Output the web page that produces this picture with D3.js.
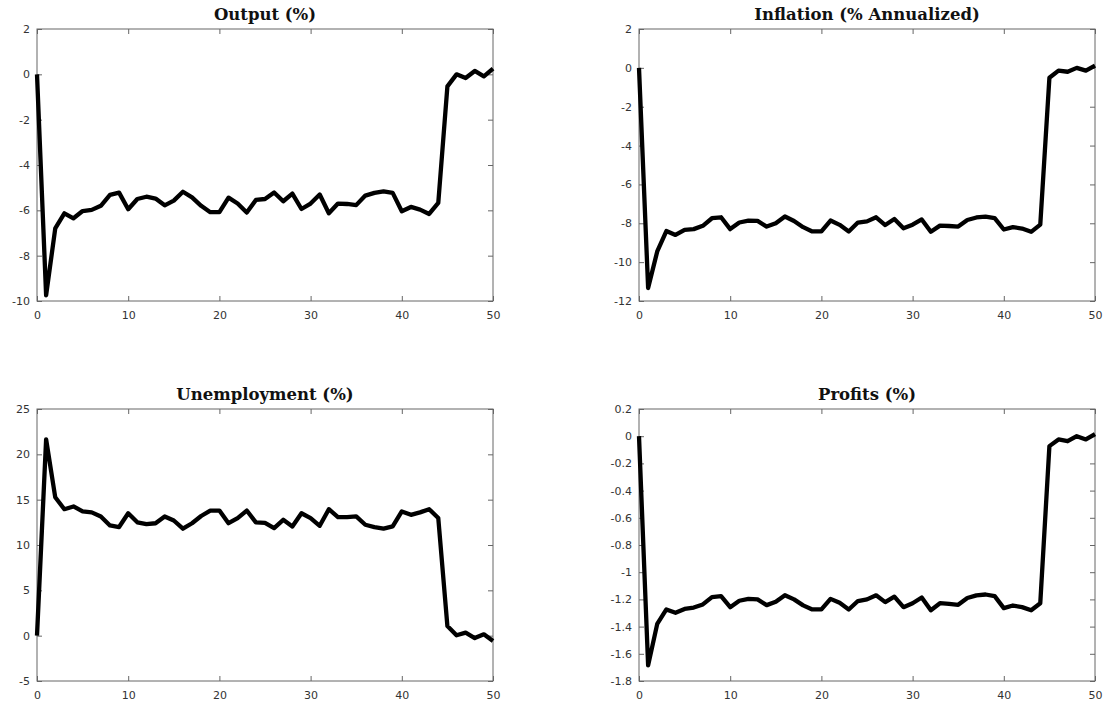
<!DOCTYPE html>
<html lang="en">
  <head>
    <meta charset="UTF-8">
    <script src="https://d3js.org/d3.v7.min.js"></script>
    <style>
      html,body{
        margin: 0px;
        background: #fff;
      }
      .tick text{ font-family: "DejaVu Sans", sans-serif; font-size: 11px; fill: #333; }
      .ttl{ font-family: "DejaVu Serif", serif; font-weight: bold; font-size: 16.5px; fill: #111; }
    </style>
  </head>
  <body>
    <svg id="chart" width="1110" height="713"></svg>
  </body>
</html>
<script>
// horizon 0..50
var periods = d3.range(0, 51);

var output = [0, -9.75, -6.8, -6.13, -6.35, -6.03, -5.98, -5.8, -5.32, -5.22,
  -5.95, -5.5, -5.4, -5.48, -5.78, -5.57, -5.18, -5.43, -5.8, -6.08,
  -6.08, -5.44, -5.7, -6.1, -5.54, -5.5, -5.21, -5.6, -5.26, -5.94,
  -5.7, -5.3, -6.13, -5.7, -5.72, -5.77, -5.35, -5.23, -5.16, -5.23,
  -6.04, -5.85, -5.97, -6.16, -5.67, -0.53, 0.0, -0.16, 0.15, -0.09, 0.25];

var inflation = [0, -11.33, -9.45, -8.4, -8.6, -8.34, -8.3, -8.13, -7.74, -7.69,
  -8.3, -7.96, -7.86, -7.88, -8.17, -8.0, -7.65, -7.88, -8.2, -8.42,
  -8.42, -7.86, -8.08, -8.42, -7.96, -7.9, -7.69, -8.09, -7.78, -8.26,
  -8.07, -7.8, -8.44, -8.12, -8.14, -8.17, -7.83, -7.7, -7.66, -7.73,
  -8.32, -8.2, -8.27, -8.44, -8.07, -0.51, -0.14, -0.2, 0.0, -0.14, 0.12];

var unemployment = [0, 21.65, 15.27, 13.95, 14.25, 13.7, 13.6, 13.15, 12.16, 11.98,
  13.5, 12.5, 12.3, 12.4, 13.15, 12.7, 11.8, 12.4, 13.2, 13.8,
  13.8, 12.4, 12.97, 13.8, 12.5, 12.45, 11.87, 12.78, 12.05, 13.5,
  12.97, 12.12, 13.95, 13.08, 13.08, 13.15, 12.23, 11.98, 11.8, 12.05,
  13.7, 13.33, 13.6, 13.95, 12.97, 1.06, 0.04, 0.33, -0.26, 0.15, -0.59];

var profits = [0, -1.685, -1.38, -1.274, -1.298, -1.27, -1.26, -1.237, -1.183, -1.176,
  -1.257, -1.21, -1.196, -1.2, -1.242, -1.218, -1.169, -1.2, -1.244, -1.274,
  -1.274, -1.196, -1.225, -1.274, -1.212, -1.2, -1.17, -1.22, -1.18, -1.257,
  -1.228, -1.186, -1.28, -1.228, -1.233, -1.24, -1.19, -1.17, -1.164, -1.176,
  -1.264, -1.245, -1.257, -1.28, -1.228, -0.073, -0.024, -0.037, 0.0, -0.024, 0.015];

var titles = ["Output (%)", "Inflation (% Annualized)", "Unemployment (%)", "Profits (%)"];

var xTicks = [0, 10, 20, 30, 40, 50];
var yTicksOutput = [-10, -8, -6, -4, -2, 0, 2];
var yTicksInflation = [-12, -10, -8, -6, -4, -2, 0, 2];
var yTicksUnemp = [-5, 0, 5, 10, 15, 20, 25];
var yTicksProfits = [-1.8, -1.6, -1.4, -1.2, -1, -0.8, -0.6, -0.4, -0.2, 0, 0.2];

var svg = d3.select("#chart");
var W = 456, H = 272;

var panels = [
  {title: titles[0], data: output, ticks: yTicksOutput, left: 37, top: 29},
  {title: titles[1], data: inflation, ticks: yTicksInflation, left: 639, top: 29},
  {title: titles[2], data: unemployment, ticks: yTicksUnemp, left: 37, top: 409},
  {title: titles[3], data: profits, ticks: yTicksProfits, left: 639, top: 409}
];

function fmt(d){ return String(+d.toFixed(2)); }   // plain hyphen minus like matlab

panels.forEach(function(p){
  var g = svg.append("g").attr("transform", "translate(" + p.left + "," + p.top + ")");
  var x = d3.scaleLinear().domain([0, 50]).range([0, W]);
  var y = d3.scaleLinear().domain(d3.extent(p.ticks)).range([H, 0]);

  // inward ticks on all four sides
  g.append("g").attr("transform", "translate(0," + H + ")")
    .call(d3.axisBottom(x).tickValues(xTicks).tickSizeInner(-5).tickSizeOuter(0).tickPadding(10).tickFormat(fmt));
  g.append("g")
    .call(d3.axisLeft(y).tickValues(p.ticks).tickSizeInner(-5).tickSizeOuter(0).tickPadding(7).tickFormat(fmt));
  g.append("g")
    .call(d3.axisTop(x).tickValues(xTicks).tickSizeInner(-5).tickSizeOuter(0).tickFormat(""));
  g.append("g").attr("transform", "translate(" + W + ",0)")
    .call(d3.axisRight(y).tickValues(p.ticks).tickSizeInner(-5).tickSizeOuter(0).tickFormat(""));
  g.selectAll(".domain").remove();
  g.selectAll(".tick line").attr("stroke", "#666");

  g.append("rect").attr("width", W).attr("height", H)
    .attr("fill", "none").attr("stroke", "#666").attr("stroke-width", 1);

  var line = d3.line().x(function(d, i){ return x(periods[i]); }).y(function(d){ return y(d); });
  g.append("path").datum(p.data)
    .attr("d", line)
    .attr("fill", "none").attr("stroke", "#000")
    .attr("stroke-width", 4.3).attr("stroke-linejoin", "round");

  g.append("text").attr("class", "ttl")
    .attr("x", W / 2).attr("y", -9)
    .attr("text-anchor", "middle")
    .text(p.title);
});
</script>
